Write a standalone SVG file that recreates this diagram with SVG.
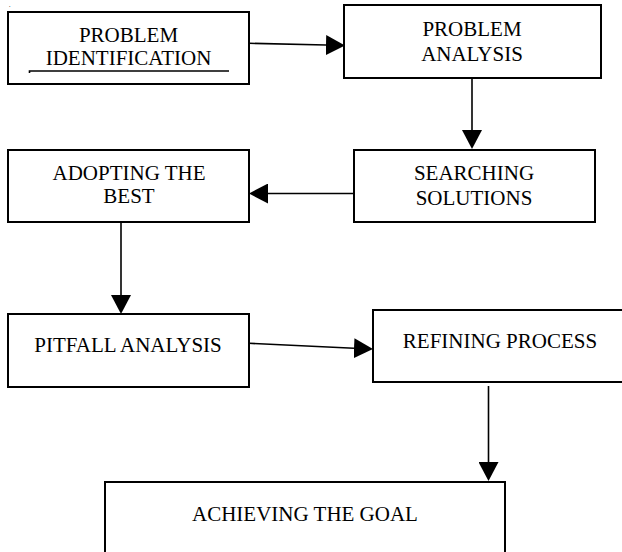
<svg xmlns="http://www.w3.org/2000/svg" width="622" height="552" viewBox="0 0 622 552">
<style>
.box{fill:#fff;stroke:#000;stroke-width:2}
.t{font-size:21px;fill:#000;text-anchor:middle}
.c{stroke:#000;stroke-width:1.6;fill:none}
</style>
<defs>
<marker id="ah" markerUnits="userSpaceOnUse" markerWidth="20" markerHeight="20" refX="0" refY="10" orient="auto" viewBox="0 0 20 20">
<path d="M0,0 L19,10 L0,20 Z" fill="#000"/>
</marker>
</defs>
<rect width="622" height="552" fill="#fff"/>
<g font-family="Liberation Serif, Times New Roman, DejaVu Serif, serif">
<text x="9" y="7" font-size="6">.</text>
<g id="n1">
<rect class="box" x="8" y="12" width="241" height="72"/>
<text class="t" x="128.5" y="42">PROBLEM</text>
<text class="t" x="128.5" y="65">IDENTIFICATION</text>
<path d="M29.5,73 L29.5,71 L229,71" stroke="#000" stroke-width="1.6" fill="none"/>
</g>
<g id="n2">
<rect class="box" x="344" y="5" width="257" height="73"/>
<text class="t" x="472" y="36">PROBLEM</text>
<text class="t" x="472" y="61">ANALYSIS</text>
</g>
<g id="n3">
<rect class="box" x="354" y="150" width="241" height="72"/>
<text class="t" x="474" y="180">SEARCHING</text>
<text class="t" x="474" y="205">SOLUTIONS</text>
</g>
<g id="n4">
<rect class="box" x="8" y="150" width="241" height="72"/>
<text class="t" x="129" y="180">ADOPTING THE</text>
<text class="t" x="129" y="203">BEST</text>
</g>
<g id="n5">
<rect class="box" x="8" y="314" width="241" height="73"/>
<text class="t" x="128" y="352">PITFALL ANALYSIS</text>
</g>
<g id="n6">
<rect class="box" x="373" y="310" width="254" height="72"/>
<text class="t" x="500" y="348">REFINING PROCESS</text>
</g>
<g id="n7">
<rect class="box" x="105" y="482" width="400" height="80"/>
<text class="t" x="305" y="521">ACHIEVING THE GOAL</text>
</g>
</g>
<g id="connectors">
<line class="c" x1="249" y1="43.3" x2="326" y2="45" marker-end="url(#ah)"/>
<line class="c" x1="472" y1="78" x2="472" y2="130" marker-end="url(#ah)"/>
<line class="c" x1="354" y1="193.5" x2="268" y2="193.5" marker-end="url(#ah)"/>
<line class="c" x1="121" y1="222" x2="121" y2="295" marker-end="url(#ah)"/>
<line class="c" x1="249" y1="343.3" x2="354" y2="348.2" marker-end="url(#ah)"/>
<line class="c" x1="488.5" y1="386" x2="488.5" y2="462" marker-end="url(#ah)"/>
</g>
</svg>
